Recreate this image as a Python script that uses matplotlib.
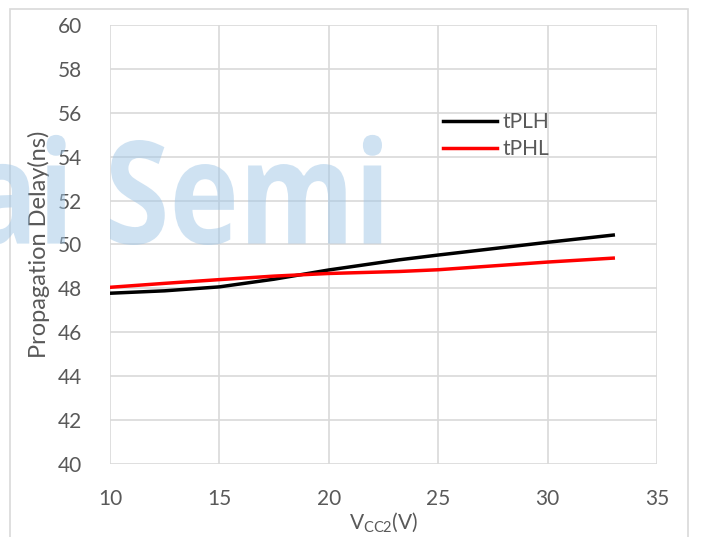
import matplotlib
matplotlib.use("Agg")
import numpy as np
import matplotlib.pyplot as plt
from matplotlib.patches import Rectangle, PathPatch
from matplotlib.textpath import TextPath
from matplotlib.font_manager import FontProperties
from matplotlib.transforms import Affine2D

# supply voltage (V) and propagation delays (ns)
vcc2 = [10, 12.5, 15, 17.5, 20, 23.2, 25, 30, 33]
tplh = [47.78, 47.89, 48.07, 48.42, 48.84, 49.3, 49.52, 50.1, 50.43]
tphl = [48.05, 48.23, 48.4, 48.56, 48.68, 48.77, 48.85, 49.2, 49.38]

xticks = [10, 15, 20, 25, 30, 35]
yticks = [40, 42, 44, 46, 48, 50, 52, 54, 56, 58, 60]

plt.rcParams['font.family'] = ['Lato', 'DejaVu Sans']
plt.rcParams['mathtext.fontset'] = 'custom'
plt.rcParams['mathtext.rm'] = 'Lato'
txt = '#595959'
grid = '#d9d9d9'

W, H = 701, 537
fig = plt.figure(figsize=(W / 100, H / 100), dpi=100)
fig.patches.append(Rectangle((10 / W, -0.1), 678 / W, 1.1 - 9 / H,
                             transform=fig.transFigure, fill=False,
                             edgecolor=grid, linewidth=1.2))
ax = fig.add_axes([110 / W, 1 - 464 / H, 547 / W, 439 / H])

ax.plot(vcc2, tplh, color='black', lw=2.5, label='tPLH', zorder=3,
        solid_joinstyle='round')
ax.plot(vcc2, tphl, color='red', lw=2.5, label='tPHL', zorder=3,
        solid_joinstyle='round')

ax.set_xlim(10, 35)
ax.set_ylim(40, 60)
ax.set_xticks(xticks)
ax.set_yticks(yticks)
ax.grid(True, color=grid, lw=1.2)
ax.set_axisbelow(True)
for s in ax.spines.values():
    s.set_visible(False)
ax.tick_params(length=0, labelsize=15, colors=txt)
ax.tick_params(axis='x', pad=18)
ax.tick_params(axis='y', pad=20)

ax.set_xlabel('V$_{\\mathregular{CC2}}$(V)', fontsize=15, color=txt, labelpad=1)
ax.set_ylabel('Propagation Delay(ns)', fontsize=17, color=txt, labelpad=6)

ax.legend(loc='center left', bbox_to_anchor=(0.609, 0.748), frameon=False,
          fontsize=15, handlelength=2.6, handletextpad=0.25, labelspacing=0.35,
          borderpad=0, borderaxespad=0, labelcolor=txt)

# watermark, squeezed to the reference's box
fp = FontProperties(family='Open Sans', weight='bold')
full = TextPath((0, 0), 'ai Semi', size=100, prop=fp)
semi = TextPath((0, 0), 'Semi', size=100, prop=fp).get_extents()
cap = TextPath((0, 0), 'S', size=100, prop=fp).get_extents()
ext = full.get_extents()
sx = (382 - 110) / semi.width
sy = (245 - 140) / cap.height
tr = Affine2D().translate(-ext.xmax, -cap.ymin).scale(sx, sy).translate(382, H - 245)
fig.patches.append(PathPatch(full, transform=tr, facecolor='#a0c6e6',
                             edgecolor='none', alpha=0.5, zorder=10))

fig.savefig('out.png', dpi=100)
